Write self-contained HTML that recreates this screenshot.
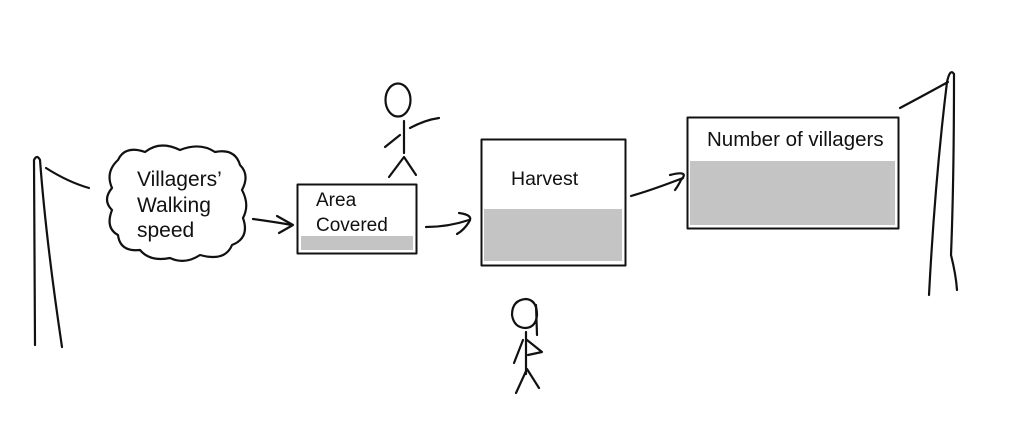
<!DOCTYPE html>
<html><head><style>
body{margin:0;background:#fff;width:1024px;height:430px;overflow:hidden}
svg{display:block}
text{font-family:"Liberation Sans",Arial,sans-serif;fill:#111}
</style></head><body>
<svg width="1024" height="430" viewBox="0 0 1024 430">
<g fill="none" stroke="#111" stroke-width="2.2" stroke-linecap="round" stroke-linejoin="round">
<path d="M35,345 L34,160 Q37,154 40,160 Q46,240 62,347"/>
<path d="M46,168 Q68,182 89,188"/>
<path d="M118,160 Q125,145 145,152 Q160,140 180,150 Q200,142 215,152 Q235,148 240,165 Q250,175 242,190 Q250,205 243,218 Q250,238 232,245 Q225,262 200,255 Q185,265 170,258 Q150,262 140,250 Q120,252 118,235 Q105,228 112,210 Q102,200 112,188 Q105,172 118,160 Z"/>
<path d="M253,219 Q275,222 292,225"/>
<path d="M277,216 L293,225 L279,233"/>
<rect x="297.5" y="184.5" width="119" height="69" stroke-width="2"/>
<ellipse cx="398" cy="100" rx="12.5" ry="16.5"/>
<path d="M404,121 L404,153"/>
<path d="M385,147 L400,135"/>
<path d="M410,128 Q425,120 439,118"/>
<path d="M389,177 L404,157 L416,175"/>
<path d="M426,227 Q448,227 469,220"/>
<path d="M459,213 Q474,215 469,222 Q464,230 457,234"/>
<rect x="481.5" y="139.5" width="144" height="126" stroke-width="2"/>
<path d="M631,196 Q652,190 683,178"/>
<path d="M670,175 Q690,170 681,180 Q678,186 675,190"/>
<rect x="687.5" y="117.5" width="211" height="111" stroke-width="2"/>
<path d="M929,295 Q935,180 947,82 Q950,68 954,74 Q954,180 951,255 Q956,275 957,290"/>
<path d="M900,108 Q930,92 948,82"/>
<path d="M526,299 Q512,300 512,315 Q514,328 526,328 Q536,327 537,315 Q537,300 526,299 Z"/>
<path d="M536,305 L537,335"/>
<path d="M526,332 L526,374"/>
<path d="M527,340 L542,352 L528,355"/>
<path d="M523,340 L514,363"/>
<path d="M516,393 L527,369 L539,388"/>
</g>
<rect x="301" y="236" width="112" height="14" fill="#c4c4c4"/>
<rect x="484" y="209" width="138" height="52" fill="#c4c4c4"/>
<rect x="690" y="161" width="205" height="64" fill="#c4c4c4"/>
<text x="137" y="186" font-size="21">Villagers’</text>
<text x="137" y="212" font-size="21">Walking</text>
<text x="137" y="237" font-size="21">speed</text>
<text x="316" y="206" font-size="19">Area</text>
<text x="316" y="231" font-size="19">Covered</text>
<text x="511" y="185" font-size="19.5">Harvest</text>
<text x="707" y="146" font-size="20.5">Number of villagers</text>
</svg>
</body></html>
